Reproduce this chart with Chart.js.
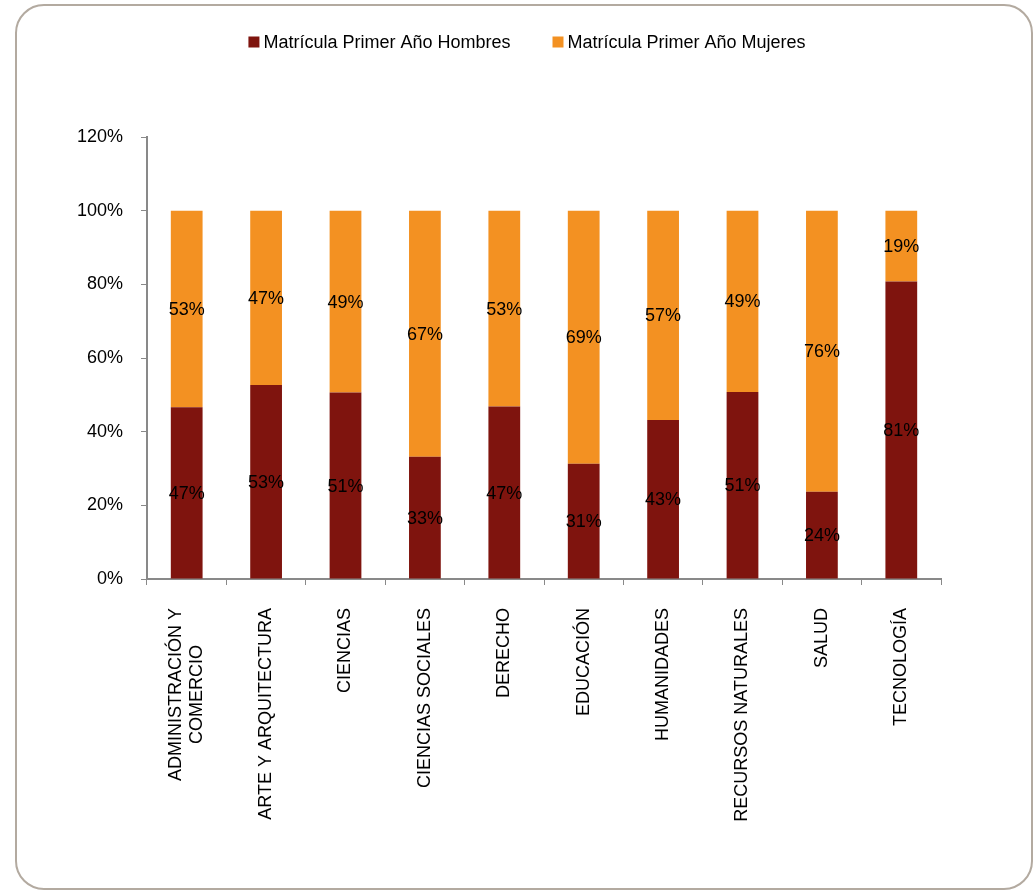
<!DOCTYPE html>
<html>
<head>
<meta charset="utf-8">
<script src="https://cdn.jsdelivr.net/npm/chart.js@4.4.1/dist/chart.umd.min.js"></script>
<style>
  html, body { margin: 0; padding: 0; background: #fff; overflow: hidden; }
  canvas { display: block; }
</style>
</head>
<body>
<canvas id="grafico" width="1035" height="890"></canvas>
<script>
// Datos
const categorias = [
  ['ADMINISTRACIÓN Y', 'COMERCIO'],
  'ARTE Y ARQUITECTURA',
  'CIENCIAS',
  'CIENCIAS SOCIALES',
  'DERECHO',
  'EDUCACIÓN',
  'HUMANIDADES',
  'RECURSOS NATURALES',
  'SALUD',
  'TECNOLOGÍA'
];
const hombres = [46.6, 52.7, 50.6, 33.2, 46.8, 31.3, 43.2, 50.8, 23.7, 80.8];
const mujeres = [53.4, 47.3, 49.4, 66.8, 53.2, 68.7, 56.8, 49.2, 76.3, 19.2];
const serieNombres = ['Matrícula Primer Año Hombres', 'Matrícula Primer Año Mujeres'];
const yTicks = [0, 20, 40, 60, 80, 100, 120];

const colores = ['#7F140E', '#F39122'];
const fuente = '"Liberation Sans", Arial, sans-serif';
const tamFuente = 18;
const gris = '#898989';

// Marco redondeado
const marco = {
  id: 'marco',
  beforeDraw(chart) {
    const ctx = chart.ctx;
    ctx.save();
    ctx.fillStyle = '#fff';
    ctx.fillRect(0, 0, chart.width, chart.height);
    ctx.strokeStyle = '#B3AAA0';
    ctx.lineWidth = 2;
    ctx.beginPath();
    ctx.roundRect(16, 5, 1016, 884, 28);
    ctx.stroke();
    ctx.restore();
  }
};

// Leyenda dibujada a mano
const leyenda = {
  id: 'leyenda',
  afterDraw(chart) {
    const ctx = chart.ctx;
    ctx.save();
    ctx.font = tamFuente + 'px ' + fuente;
    ctx.textBaseline = 'middle';
    ctx.textAlign = 'left';
    const caja = 11, sep = 4, gap = 42;
    const anchos = serieNombres.map(t => ctx.measureText(t).width);
    let total = 0;
    anchos.forEach((w, i) => { total += caja + sep + w + (i ? gap : 0); });
    let x = 527 - total / 2;
    const y = 42;
    serieNombres.forEach((t, i) => {
      ctx.fillStyle = colores[i];
      ctx.fillRect(x, y - caja / 2, caja, caja);
      ctx.fillStyle = '#000';
      ctx.fillText(t, x + caja + sep, y + 1);
      x += caja + sep + anchos[i] + gap;
    });
    ctx.restore();
  }
};

// Etiquetas de categorías giradas
const etiquetasX = {
  id: 'etiquetasX',
  afterDraw(chart) {
    const ctx = chart.ctx;
    const xs = chart.scales.x;
    const top = chart.chartArea.bottom + 29;
    const alto = 21;
    ctx.save();
    ctx.font = tamFuente + 'px ' + fuente;
    ctx.fillStyle = '#000';
    ctx.textBaseline = 'middle';
    ctx.textAlign = 'center';
    categorias.forEach((lab, i) => {
      const lineas = Array.isArray(lab) ? lab : [lab];
      const maxW = Math.max(...lineas.map(l => ctx.measureText(l).width));
      const x = xs.getPixelForValue(i);
      ctx.save();
      ctx.translate(x, top);
      ctx.rotate(-Math.PI / 2);
      lineas.forEach((l, j) => {
        ctx.fillText(l, -maxW / 2, (j - (lineas.length - 1) / 2) * alto);
      });
      ctx.restore();
    });
    ctx.restore();
  }
};

// Etiquetas de valores en el centro de cada segmento
const etiquetasValor = {
  id: 'etiquetasValor',
  afterDatasetsDraw(chart) {
    const ctx = chart.ctx;
    ctx.save();
    ctx.font = tamFuente + 'px ' + fuente;
    ctx.fillStyle = '#000';
    ctx.textAlign = 'center';
    ctx.textBaseline = 'middle';
    chart.data.datasets.forEach((ds, di) => {
      const meta = chart.getDatasetMeta(di);
      meta.data.forEach((bar, i) => {
        const y = (bar.y + bar.base) / 2;
        ctx.fillText(Math.round(ds.data[i]) + '%', bar.x, y + 1);
      });
    });
    ctx.restore();
  }
};

const ctx = document.getElementById('grafico').getContext('2d');
new Chart(ctx, {
  type: 'bar',
  data: {
    labels: categorias,
    datasets: [
      { label: serieNombres[0], data: hombres, backgroundColor: colores[0] },
      { label: serieNombres[1], data: mujeres, backgroundColor: colores[1] }
    ]
  },
  options: {
    responsive: false,
    animation: false,
    devicePixelRatio: 1,
    layout: { padding: { left: 0, right: 94, top: 137, bottom: 0 } },
    datasets: { bar: { categoryPercentage: 1, barPercentage: 0.4 } },
    plugins: {
      legend: { display: false },
      tooltip: { enabled: false }
    },
    scales: {
      x: {
        stacked: true,
        afterFit(scale) { scale.height = 311; },
        ticks: { display: false },
        grid: { display: true, drawOnChartArea: false, drawTicks: true, tickLength: 6, color: gris, offset: true },
        border: { display: true, color: gris, width: 2 }
      },
      y: {
        stacked: true,
        min: 0,
        max: 120,
        afterFit(scale) { scale.width = 147; },
        afterBuildTicks(scale) { scale.ticks = yTicks.map(v => ({ value: v })); },
        ticks: {
          color: '#000',
          padding: 18,
          font: { family: fuente, size: tamFuente },
          callback: v => v + '%'
        },
        grid: { display: true, drawOnChartArea: false, drawTicks: true, tickLength: 6, color: gris },
        border: { display: true, color: gris, width: 2 }
      }
    }
  },
  plugins: [marco, leyenda, etiquetasX, etiquetasValor]
});
</script>
</body>
</html>
